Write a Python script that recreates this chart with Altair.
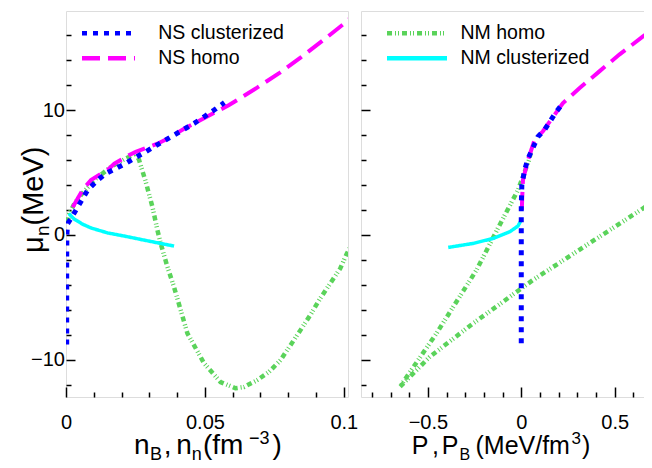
import altair as alt
import pandas as pd

FONT = "Liberation Sans"

SERIES = ["NS clusterized", "NS homo", "NM homo", "NM clusterized"]
COLORS = ["#0000ff", "#ff00ff", "#5ad35a", "#00ffff"]
DASHES = [[5, 6], [18, 8], [5, 3, 1, 2, 1, 3], [1, 0]]
WIDTHS = {"NS clusterized": 5, "NS homo": 4, "NM homo": 4.5, "NM clusterized": 3.5}
DRAW_ORDER = ["NM homo", "NM clusterized", "NS homo", "NS clusterized"]

# ---------------- left panel: mu_n vs n_B, n_n (fm^-3) ----------------
L_ns_clust_n = [0.00025, 0.00025, 0.00025, 0.00030, 0.00036, 0.0006, 0.0018, 0.0078, 0.0114, 0.0144,
                0.0179, 0.0215, 0.0245, 0.0287, 0.0323, 0.0389, 0.0461, 0.0497, 0.0533, 0.0570]
L_ns_clust_mu = [-8.8, -5.0, -2.0, -0.45, 0.2, 0.9, 1.31, 3.58, 4.39, 4.92,
                 5.32, 5.73, 6.13, 6.66, 7.14, 8.0, 8.93, 9.46, 10.0, 10.6]

L_ns_homo_n = [0.0024, 0.0060, 0.0090, 0.0150, 0.0174, 0.0228, 0.0251, 0.0329, 0.0365, 0.0425,
               0.0527, 0.0587, 0.0688, 0.0770, 0.0844, 0.0920, 0.1005, 0.1030]
L_ns_homo_mu = [2.2, 3.6, 4.4, 5.2, 5.7, 6.4, 6.65, 7.3, 7.7, 8.5,
                9.7, 10.4, 11.8, 13.0, 14.2, 15.5, 17.0, 17.5]

L_nm_homo_n = [0.0005, 0.0012, 0.0030, 0.0054, 0.0102, 0.0162, 0.0210, 0.0250, 0.0263, 0.0287,
               0.0311, 0.0329, 0.0341, 0.0365, 0.0389, 0.0437, 0.0497, 0.0556, 0.0610, 0.0640,
               0.0688, 0.0730, 0.0772, 0.0808, 0.0844, 0.0879, 0.0915, 0.0951, 0.0987, 0.1011, 0.1030]
L_nm_homo_mu = [1.0, 1.7, 2.5, 3.2, 4.4, 5.45, 6.05, 6.5, 6.0, 4.25,
                2.25, 0.38, -0.7, -2.57, -4.2, -7.9, -10.3, -11.8, -12.3, -12.2,
                -11.65, -11.0, -10.05, -8.85, -7.64, -6.44, -5.1, -3.9, -2.7, -1.5, -0.7]

L_nm_clust_n = [0.0010, 0.0030, 0.0060, 0.0090, 0.0150, 0.0210, 0.0269, 0.0329, 0.0389]
L_nm_clust_mu = [1.7, 1.25, 0.85, 0.55, 0.15, -0.1, -0.37, -0.64, -0.9]

# ---------------- right panel: mu_n vs P, P_B (MeV/fm^3) ----------------
R_ns_clust_p = [0.0, 0.0, 0.0, 0.0, 0.003, 0.018, 0.036, 0.089, 0.124, 0.187, 0.228]
R_ns_clust_mu = [-8.7, -4.0, 0.0, 2.3, 4.0, 5.2, 6.1, 7.86, 8.4, 9.86, 10.65]

R_ns_homo_p = [0.003, 0.005, 0.009, 0.036, 0.071, 0.116, 0.222, 0.311, 0.418, 0.525, 0.650, 0.670]
R_ns_homo_mu = [2.0, 3.0, 4.4, 6.0, 7.6, 8.3, 10.54, 11.75, 13.1, 14.45, 15.88, 16.1]

R_nm_homo_p = [0.050, 0.044, -0.018, -0.107, -0.240, -0.454, -0.650, -0.490, -0.258, -0.098,
               0.062, 0.311, 0.632, 0.670]
R_nm_homo_mu = [6.6, 6.1, 3.58, 1.04, -2.83, -7.9, -12.19, -9.78, -7.1, -5.37,
                -3.63, -1.2, 1.92, 2.3]

R_nm_clust_p = [0.0, -0.018, -0.062, -0.151, -0.258, -0.391]
R_nm_clust_mu = [1.18, 0.70, 0.24, -0.29, -0.69, -1.01]

# axis ticks
Y_DOMAIN = [-13, 17.94]
Y_MAJOR = [-10, 0, 10]
Y_MINOR = [-12, -8, -6, -4, -2, 2, 4, 6, 8, 12, 14, 16]
L_X_DOMAIN = [0, 0.1015]
L_X_MAJOR = [0, 0.05, 0.1]
L_X_MINOR = [0.01, 0.02, 0.03, 0.04, 0.06, 0.07, 0.08, 0.09]
R_X_DOMAIN = [-0.858, 0.657]
R_X_MAJOR = [-0.5, 0, 0.5]
R_X_MINOR = [-0.8, -0.7, -0.6, -0.4, -0.3, -0.2, -0.1, 0.1, 0.2, 0.3, 0.4, 0.6]


def series_df(name, xs, ys):
    return pd.DataFrame({"x": xs, "mu": ys, "series": name, "i": list(range(len(xs)))})


LEFT = {
    "NS clusterized": series_df("NS clusterized", L_ns_clust_n, L_ns_clust_mu),
    "NS homo": series_df("NS homo", L_ns_homo_n, L_ns_homo_mu),
    "NM homo": series_df("NM homo", L_nm_homo_n, L_nm_homo_mu),
    "NM clusterized": series_df("NM clusterized", L_nm_clust_n, L_nm_clust_mu),
}
RIGHT = {
    "NS clusterized": series_df("NS clusterized", R_ns_clust_p, R_ns_clust_mu),
    "NS homo": series_df("NS homo", R_ns_homo_p, R_ns_homo_mu),
    "NM homo": series_df("NM homo", R_nm_homo_p, R_nm_homo_mu),
    "NM clusterized": series_df("NM clusterized", R_nm_clust_p, R_nm_clust_mu),
}

ONE = pd.DataFrame({"k": [0]})


def frag(text, x, y, size, angle=0):
    return alt.Chart(ONE).mark_text(
        text=text, font=FONT, fontSize=size, align="left", baseline="alphabetic",
        angle=angle, color="black"
    ).encode(x=alt.value(x), y=alt.value(y))


def make_panel(data, xdomain, xmajor, xminor, ylabels, legend_vals, legend_x, symsize, lab_off, frags):
    color_scale = alt.Scale(domain=SERIES, range=COLORS)
    dash_scale = alt.Scale(domain=SERIES, range=DASHES)
    leg = alt.Legend(
        title=None, values=legend_vals, orient="none", legendX=legend_x, legendY=9.8,
        symbolType="stroke", symbolSize=symsize, symbolStrokeWidth=4.5,
        labelFont=FONT, labelFontSize=19.5, labelColor="black", labelOffset=lab_off,
        clipHeight=25, rowPadding=0, padding=0, labelLimit=300,
    )
    xs = alt.Scale(domain=xdomain, nice=False, zero=False)
    ys = alt.Scale(domain=Y_DOMAIN, nice=False, zero=False)
    x_major = alt.Axis(
        values=xmajor, format="~g", orient="bottom", tickSize=10, offset=-10, domain=False,
        grid=False, labelPadding=15.5, labelFont=FONT, labelFontSize=20, labelColor="black",
        tickColor="black", tickWidth=1.5, title=None, labelFlush=False, labelOverlap=False,
    )
    y_major = alt.Axis(
        values=Y_MAJOR, format="d", orient="left", tickSize=9, offset=-9, domain=False,
        grid=False, labels=ylabels, labelPadding=1.5, labelFont=FONT, labelFontSize=20,
        labelColor="black", tickColor="black", tickWidth=1.5, title=None, labelOverlap=False,
    )
    x_minor = alt.Axis(
        values=xminor, orient="bottom", tickSize=5, offset=-5, domain=False, grid=False,
        labels=False, tickColor="black", tickWidth=1.5, title=None,
    )
    y_minor = alt.Axis(
        values=Y_MINOR, orient="left", tickSize=5, offset=-5, domain=False, grid=False,
        labels=False, tickColor="black", tickWidth=1.5, title=None,
    )
    lines = []
    for name in DRAW_ORDER:
        lines.append(
            alt.Chart(data[name]).mark_line(strokeWidth=WIDTHS[name], clip=True, strokeCap="butt").encode(
                x=alt.X("x:Q", scale=xs, axis=x_major),
                y=alt.Y("mu:Q", scale=ys, axis=y_major),
                color=alt.Color("series:N", scale=color_scale, legend=leg),
                strokeDash=alt.StrokeDash("series:N", scale=dash_scale, legend=leg),
                order=alt.Order("i:Q"),
            )
        )
    curves = alt.layer(*lines)
    minor = alt.Chart(data["NS homo"]).mark_line(opacity=0).encode(
        x=alt.X("x:Q", scale=xs, axis=x_minor),
        y=alt.Y("mu:Q", scale=ys, axis=y_minor),
    )
    return alt.layer(curves, minor, *frags).resolve_scale(x="independent", y="independent")


# axis titles with sub/superscripts (positions relative to each panel's plot area)
left_frags = [
    frag("n", 68.0, 442.5, 28), frag("B", 84.1, 448.5, 18), frag(",", 97.8, 442.5, 28),
    frag("n", 110.3, 442.5, 28), frag("n", 125.8, 448.5, 18), frag("(fm", 136.9, 442.5, 28),
    frag("\u22123", 183.0, 432.5, 18), frag(")", 206.4, 442.5, 28),
    frag("\u03bc", -22.7, 242, 29, 270), frag("n", -17.5, 225, 19, 270),
    frag("(MeV)", -22.7, 214.5, 29, 270),
]
right_frags = [
    frag("P", 50.7, 443, 25), frag(",", 71, 443, 25), frag("P", 80.7, 443, 25),
    frag("B", 98.5, 449, 16), frag("(MeV/fm", 114.5, 443, 25), frag("3", 210.5, 433, 17),
    frag(")", 221, 443, 25),
]

left = make_panel(LEFT, L_X_DOMAIN, L_X_MAJOR, L_X_MINOR, True,
                  ["NS clusterized", "NS homo"], 13.5, 2809, 20.7, left_frags).properties(width=282, height=386)
right = make_panel(RIGHT, R_X_DOMAIN, R_X_MAJOR, R_X_MINOR, False,
                   ["NM homo", "NM clusterized"], 23.5, 3600, 11, right_frags).properties(width=283, height=386)

chart = alt.hconcat(left, right, spacing=13, bounds="flush").resolve_scale(
    color="independent", strokeDash="independent"
).properties(
    autosize=alt.AutoSizeParams(type="none"),
    padding={"left": 58, "top": 3, "right": 578, "bottom": 449},
).configure_view(stroke="black", strokeWidth=1.5).configure(font=FONT)

chart.save("out.html", embed_options={"renderer": "svg", "actions": False})
